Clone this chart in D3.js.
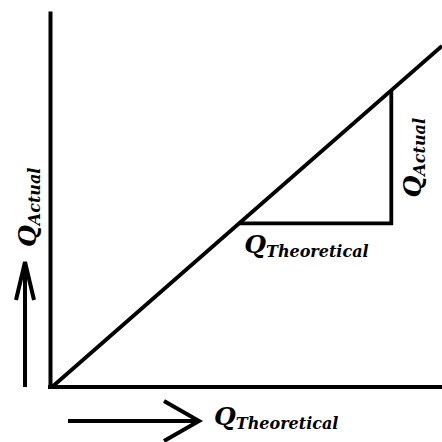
<!DOCTYPE html>
<html>
<head>
<meta charset="utf-8">
<script src="https://cdn.jsdelivr.net/npm/d3@7"></script>
<style>
  html, body { margin: 0; padding: 0; background: #fff; }
  svg { display: block; }
  .lbl { font-family: "DejaVu Serif", serif; font-weight: bold; font-style: italic; fill: #000; }
</style>
</head>
<body>
<svg class="chart" width="442" height="442"></svg>
<script>
// line Q_actual vs Q_theoretical (arbitrary units)
var lineX = [0, 100];
var lineY = [0, 90.7];
// slope triangle
var triX = [48, 87, 87];
var triY = [43.5, 43.5, 78.9];
var axisLabel = "Q";
var xSub = "Theoretical";
var ySub = "Actual";

var vis = d3.select(".chart"),
    WIDTH = 442,
    HEIGHT = 442,
    MARGINS = { top: 11, right: 0, bottom: 55, left: 52 };

var xScale = d3.scaleLinear().domain([0, 100]).range([MARGINS.left, WIDTH - MARGINS.right]),
    yScale = d3.scaleLinear().domain([0, 100]).range([HEIGHT - MARGINS.bottom, MARGINS.top]);

// axes (plain lines, no ticks)
var xAxis = d3.axisBottom(xScale).tickValues([]).tickSizeOuter(0),
    yAxis = d3.axisLeft(yScale).tickValues([]).tickSizeOuter(0);

vis.append("g")
    .attr("transform", "translate(0," + yScale(0) + ")")
    .call(xAxis)
    .select(".domain").attr("stroke-width", 4).attr("d", "M" + (xScale(0) - 4) + ",0H" + WIDTH);

vis.append("g")
    .attr("transform", "translate(" + (xScale(0) - 2) + ",0)")
    .call(yAxis)
    .select(".domain").attr("stroke-width", 4);

var lineGen = d3.line()
    .x(function(d) { return xScale(d[0]); })
    .y(function(d) { return yScale(d[1]); });

vis.append("path")
    .attr("d", lineGen(d3.zip(lineX, lineY)))
    .attr("stroke", "#000")
    .attr("stroke-width", 3.8)
    .attr("fill", "none");

vis.append("path")
    .attr("d", lineGen(d3.zip(triX, triY)))
    .attr("stroke", "#000")
    .attr("stroke-width", 3.8)
    .attr("stroke-linejoin", "miter")
    .attr("fill", "none");

function label(g, sub) {
  var t = g.append("text").attr("class", "lbl");
  t.append("tspan").attr("font-size", 25).text(axisLabel);
  t.append("tspan").attr("font-size", 16).attr("dy", 4).text(sub);
  return t;
}

// triangle labels
label(vis.append("g").attr("transform", "translate(" + (xScale(triX[0]) + 5) + "," + (yScale(triY[0]) + 30) + ")"), xSub);
label(vis.append("g").attr("transform", "translate(" + (xScale(triX[1]) + 30) + "," + (yScale(triY[0]) - 26) + ") rotate(-90)"), ySub);

// bottom arrow + label
var ay = yScale(0) + 34;
vis.append("path")
    .attr("d", "M68," + ay + "H198 M164," + (ay - 20) + "L199," + ay + "L164," + (ay + 20))
    .attr("stroke", "#000").attr("stroke-width", 4).attr("fill", "none");
label(vis.append("g").attr("transform", "translate(214," + (ay + 4) + ")"), xSub);

// left arrow + label
var ax = 25;
vis.append("path")
    .attr("d", "M" + ax + "," + yScale(0) + "V263 M" + (ax - 9) + ",300L" + ax + ",262L" + (ax + 9) + ",300")
    .attr("stroke", "#000").attr("stroke-width", 4).attr("fill", "none");
label(vis.append("g").attr("transform", "translate(" + (ax + 11) + ",247) rotate(-90)"), ySub);
</script>
</body>
</html>
